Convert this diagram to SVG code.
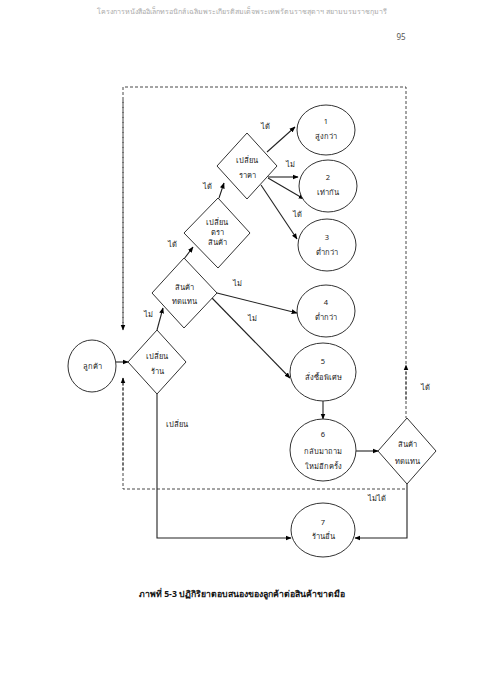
<svg xmlns="http://www.w3.org/2000/svg" width="480" height="679" viewBox="0 0 480 679">
<defs>
<marker id="ah" viewBox="0 0 10 10" refX="9" refY="5" markerWidth="6" markerHeight="6" orient="auto-start-reverse" markerUnits="userSpaceOnUse">
<path d="M0,1 L10,5 L0,9 z" fill="#000"/>
</marker>
</defs>
<style>
text{font-family:"Noto Sans","DejaVu Sans",sans-serif;fill:#222;text-anchor:middle;font-size:7.5px}
.n{fill:#fff;stroke:#333;stroke-width:1}
.c{fill:none;stroke:#222;stroke-width:1.1}
.a{marker-end:url(#ah)}
.d{fill:none;stroke:#333;stroke-width:0.9;stroke-dasharray:3,2}
.lb{font-size:7.5px}
.hd{fill:#aaa;font-size:7.1px}
.cap{font-size:8.7px;font-weight:bold;fill:#111}
</style>
<rect width="480" height="679" fill="#fff"/>
<text class="hd" x="242" y="14">โครงการหนังสืออิเล็กทรอนิกส์ เฉลิมพระเกียรติสมเด็จพระเทพรัตนราชสุดาฯ สยามบรมราชกุมารี</text>
<text x="401" y="40" style="font-size:8px;fill:#555">95</text>
<g id="connectors">
<path class="d" d="M123,330 V87 H406 V418"/>
<path class="d" d="M123,378 V489 H406"/>
<path class="d a" d="M123,100 V330"/>
<path class="d a" d="M123,470 V378"/>
<path class="d a" d="M406,400 V365"/>
<path class="c a" d="M116,362 H128"/>
<path class="c a" d="M157,330 L163,308"/>
<path class="c a" d="M217,293 L297,313"/>
<path class="c a" d="M212,298 L290,378"/>
<path class="c a" d="M184,259 L193,247"/>
<path class="c a" d="M219,198 L224,183"/>
<path class="c a" d="M267,152 L295,127"/>
<path class="c a" d="M268,177 L298,177"/>
<path class="c a" d="M268,178 L304,199"/>
<path class="c a" d="M261,185 L297,239"/>
<path class="c a" d="M323,401 V419"/>
<path class="c a" d="M356,451 H378"/>
<path class="c a" d="M157,393 V538 H291"/>
<path class="c a" d="M407,483 V538 H355"/>
<text class="lb" x="265" y="129">ได้</text>
<text class="lb" x="290" y="167">ไม่</text>
<text class="lb" x="297" y="217">ได้</text>
<text class="lb" x="207" y="189">ได้</text>
<text class="lb" x="172" y="247">ได้</text>
<text class="lb" x="148" y="317">ไม่</text>
<text class="lb" x="237" y="286">ไม่</text>
<text class="lb" x="252" y="321">ไม่</text>
<text class="lb" x="177" y="427">เปลี่ยน</text>
<text class="lb" x="425" y="390">ได้</text>
<text class="lb" x="377" y="501">ไม่ได้</text>
</g>
<g id="customer"><ellipse class="n" cx="92" cy="366" rx="24" ry="26"/><text x="92" y="369">ลูกค้า</text></g>
<g id="d-store"><path class="n" d="M157,330 L186,362 L157,394 L128,362 Z"/><text x="157" y="359">เปลี่ยน</text><text x="157" y="374">ร้าน</text></g>
<g id="d-subst"><path class="n" d="M184,258 L217,293 L184,328 L152,293 Z"/><text x="184" y="290">สินค้า</text><text x="184" y="304">ทดแทน</text></g>
<g id="d-brand"><path class="n" d="M218,198 L250,233 L218,268 L184,233 Z"/><text x="217" y="225">เปลี่ยน</text><text x="217" y="235">ตรา</text><text x="217" y="245">สินค้า</text></g>
<g id="d-price"><path class="n" d="M247,133 L277,166 L247,199 L217,166 Z"/><text x="247" y="163">เปลี่ยน</text><text x="247" y="178">ราคา</text></g>
<g id="n1"><ellipse class="n" cx="326" cy="130" rx="29" ry="25"/><text x="326" y="124">1</text><text x="326" y="139">สูงกว่า</text></g>
<g id="n2"><ellipse class="n" cx="328" cy="186" rx="29" ry="26"/><text x="328" y="180">2</text><text x="328" y="195">เท่ากัน</text></g>
<g id="n3"><ellipse class="n" cx="327" cy="245" rx="29" ry="26"/><text x="327" y="240">3</text><text x="327" y="255">ต่ำกว่า</text></g>
<g id="n4"><ellipse class="n" cx="326" cy="311" rx="29" ry="26"/><text x="326" y="305">4</text><text x="326" y="320">ต่ำกว่า</text></g>
<g id="n5"><ellipse class="n" cx="323" cy="372" rx="33" ry="29"/><text x="323" y="364">5</text><text x="323" y="380">สั่งซื้อพิเศษ</text></g>
<g id="n6"><ellipse class="n" cx="323" cy="450" rx="33" ry="31"/><text x="323" y="437">6</text><text x="323" y="454">กลับมาถาม</text><text x="323" y="469">ใหม่อีกครั้ง</text></g>
<g id="d-subst2"><path class="n" d="M407,418 L436,451 L407,484 L378,451 Z"/><text x="407" y="447">สินค้า</text><text x="407" y="464">ทดแทน</text></g>
<g id="n7"><ellipse class="n" cx="323" cy="530" rx="32" ry="27"/><text x="323" y="525">7</text><text x="323" y="539">ร้านอื่น</text></g>
<text class="cap" x="242" y="597">ภาพที่ 5-3 ปฏิกิริยาตอบสนองของลูกค้าต่อสินค้าขาดมือ</text>
</svg>
